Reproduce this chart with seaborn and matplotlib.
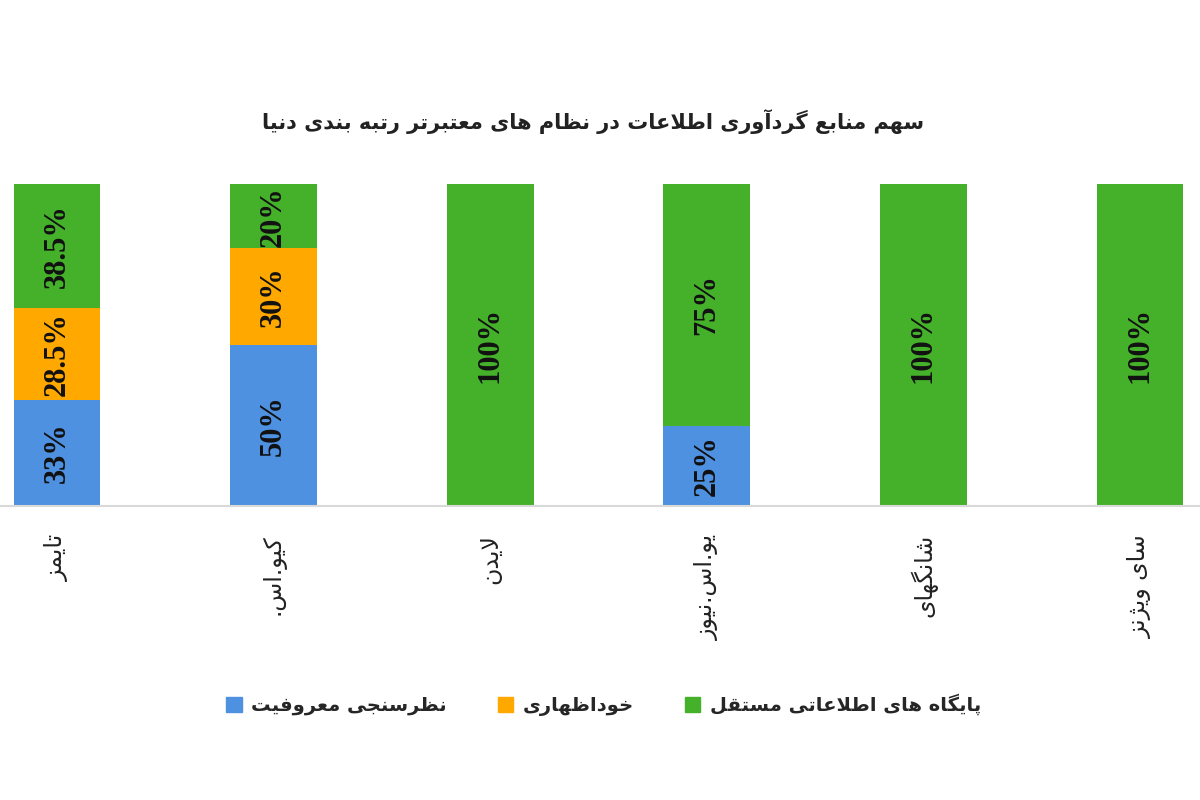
import matplotlib
matplotlib.use("Agg")
import matplotlib.pyplot as plt
import matplotlib.patches as mpatches
import seaborn as sns
import numpy as np
import pandas as pd

title = "سهم منابع گردآوری اطلاعات در نظام های معتبرتر رتبه بندی دنیا"
categories = ["تایمز", "کیو.اس.", "لایدن", "یو.اس.نیوز", "شانگهای", "سای ویژنز"]
series_names = ["نظرسنجی معروفیت", "خوداظهاری", "پایگاه های اطلاعاتی مستقل"]
reputation = [33, 50, 0, 25, 0, 0]
self_report = [28.5, 30, 0, 0, 0, 0]
independent = [38.5, 20, 100, 75, 100, 100]
colors = ["#4E91E0", "#FFA800", "#45B12B"]

# minimal arabic/persian shaping: (isolated, final, initial, medial)
FORMS = {
    "ا": (0xFE8D, 0xFE8E, None, None), "آ": (0xFE81, 0xFE82, None, None),
    "ب": (0xFE8F, 0xFE90, 0xFE91, 0xFE92), "پ": (0xFB56, 0xFB57, 0xFB58, 0xFB59),
    "ت": (0xFE95, 0xFE96, 0xFE97, 0xFE98), "ج": (0xFE9D, 0xFE9E, 0xFE9F, 0xFEA0),
    "خ": (0xFEA5, 0xFEA6, 0xFEA7, 0xFEA8), "د": (0xFEA9, 0xFEAA, None, None),
    "ر": (0xFEAD, 0xFEAE, None, None), "ز": (0xFEAF, 0xFEB0, None, None),
    "ژ": (0xFB8A, 0xFB8B, None, None), "س": (0xFEB1, 0xFEB2, 0xFEB3, 0xFEB4),
    "ش": (0xFEB5, 0xFEB6, 0xFEB7, 0xFEB8), "ط": (0xFEC1, 0xFEC2, 0xFEC3, 0xFEC4),
    "ظ": (0xFEC5, 0xFEC6, 0xFEC7, 0xFEC8), "ع": (0xFEC9, 0xFECA, 0xFECB, 0xFECC),
    "ف": (0xFED1, 0xFED2, 0xFED3, 0xFED4), "ق": (0xFED5, 0xFED6, 0xFED7, 0xFED8),
    "ک": (0xFB8E, 0xFB8F, 0xFB90, 0xFB91), "ك": (0xFB8E, 0xFB8F, 0xFB90, 0xFB91),
    "گ": (0xFB92, 0xFB93, 0xFB94, 0xFB95), "ل": (0xFEDD, 0xFEDE, 0xFEDF, 0xFEE0),
    "م": (0xFEE1, 0xFEE2, 0xFEE3, 0xFEE4), "ن": (0xFEE5, 0xFEE6, 0xFEE7, 0xFEE8),
    "ه": (0xFEE9, 0xFEEA, 0xFEEB, 0xFEEC), "و": (0xFEED, 0xFEEE, None, None),
    "ی": (0xFEEF, 0xFEF0, 0xFEF3, 0xFEF4), "ي": (0xFEEF, 0xFEF0, 0xFEF3, 0xFEF4),
}
LAM_ALEF = {"ا": (0xFEFB, 0xFEFC), "آ": (0xFEF5, 0xFEF6)}


def dual(c):
    return c in FORMS and FORMS[c][2] is not None


def fa(text):
    out = []
    i = 0
    n = len(text)
    while i < n:
        c = text[i]
        if c not in FORMS:
            out.append(c)
            i += 1
            continue
        prev_join = i > 0 and dual(text[i - 1])
        if c == "ل" and i + 1 < n and text[i + 1] in LAM_ALEF:
            iso, fin = LAM_ALEF[text[i + 1]]
            out.append(chr(fin if prev_join else iso))
            i += 2
            continue
        next_join = dual(c) and i + 1 < n and text[i + 1] in FORMS
        iso, fin, ini, med = FORMS[c]
        if prev_join and next_join:
            out.append(chr(med))
        elif prev_join:
            out.append(chr(fin))
        elif next_join:
            out.append(chr(ini))
        else:
            out.append(chr(iso))
        i += 1
    return "".join(out)[::-1]


df = pd.DataFrame({"cat": categories, "rep": reputation, "self": self_report, "ind": independent})
base2 = np.array(reputation)
base3 = base2 + np.array(self_report)

sns.set_style("white")
plt.rcParams["font.family"] = ["DejaVu Sans"]

fig = plt.figure(figsize=(12, 8), dpi=100)
ax = fig.add_axes([0, 0.3675, 1, 0.4025])

sns.barplot(data=df, x="cat", y="rep", color=colors[0], width=0.4, errorbar=None, ax=ax,
            saturation=1, linewidth=0)
sns.barplot(data=df, x="cat", y="self", color=colors[1], width=0.4, errorbar=None, ax=ax,
            saturation=1, linewidth=0, bottom=base2)
sns.barplot(data=df, x="cat", y="ind", color=colors[2], width=0.4, errorbar=None, ax=ax,
            saturation=1, linewidth=0, bottom=base3)

for vals, bottoms in [(reputation, np.zeros(6)), (self_report, base2), (independent, base3)]:
    for i, (v, b) in enumerate(zip(vals, bottoms)):
        if v > 0:
            ax.text(i, b + v / 2, f"{v:g}%", rotation=90, ha="center", va="center",
                    fontsize=22, fontweight="bold", family="Liberation Serif", color="#111111")

ax.set_xlim(-0.263, 5.277)
ax.set_ylim(0, 100)
ax.set_xlabel("")
ax.set_ylabel("")
ax.set_yticks([])
ax.set_xticks(range(len(categories)))
ax.set_xticklabels([fa(c) for c in categories], rotation=90, va="top", fontsize=17, color="#222222")
ax.tick_params(axis="x", length=0, pad=20)
for s in ["top", "left", "right"]:
    ax.spines[s].set_visible(False)
ax.spines["bottom"].set_color("#d9d9d9")
ax.spines["bottom"].set_linewidth(1.5)
ax.set_facecolor("none")

fig.text(0.494, 0.848, fa(title), ha="center", va="center", fontsize=15, fontweight="bold",
         color="#222222")

handles = [mpatches.Patch(color=colors[k], label=fa(series_names[k])) for k in range(3)]
fig.legend(handles=handles, loc="center", bbox_to_anchor=(0.503, 0.119), ncol=3, frameon=False,
           prop={"size": 14, "weight": "bold"}, handlelength=0.8, handleheight=0.8,
           handletextpad=0.5, columnspacing=2.6)

fig.savefig("out.png", dpi=100, facecolor="white")
